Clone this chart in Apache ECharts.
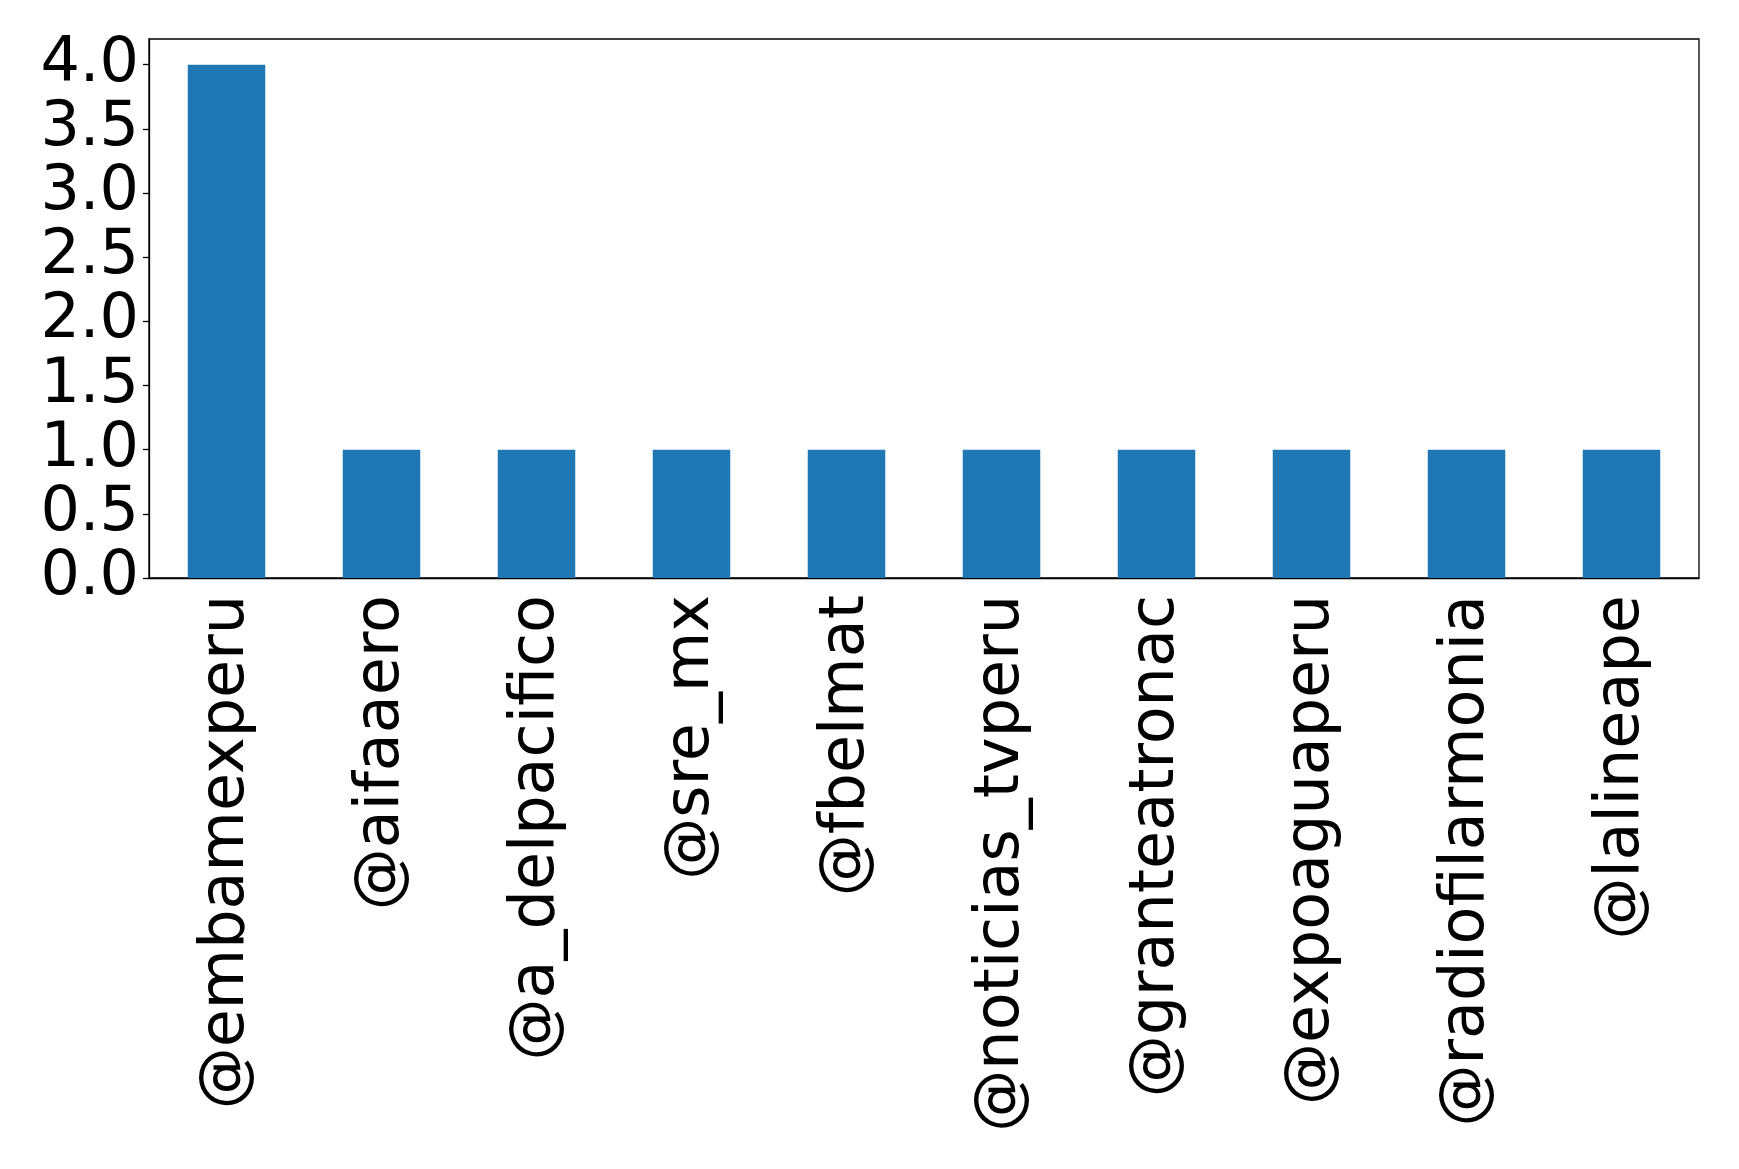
<!DOCTYPE html>
<html>
<head>
<meta charset="utf-8">
<script src="https://cdn.jsdelivr.net/npm/echarts@6/dist/echarts.min.js"></script>
<style>
html,body{margin:0;padding:0;background:#fff}
#chart{width:1739px;height:1169px}
</style>
</head>
<body>
<div id="chart"></div>
<script>
var categories = ['@embamexperu','@aifaaero','@a_delpacifico','@sre_mx','@fbelmat',
  '@noticias_tvperu','@granteatronac','@expoaguaperu','@radiofilarmonia','@lalineape'];
var counts = [4, 1, 1, 1, 1, 1, 1, 1, 1, 1];
var yTicks = [0, 0.5, 1.0, 1.5, 2.0, 2.5, 3.0, 3.5, 4.0];

var chart = echarts.init(document.getElementById('chart'));
chart.setOption({
  animation: false,
  grid: {
    left: 149, top: 39, width: 1550, height: 539,
    show: true, borderColor: '#000', borderWidth: 1.3
  },
  xAxis: {
    type: 'category',
    data: categories,
    axisLine: {lineStyle: {color: '#000', width: 1.3}},
    axisTick: {alignWithLabel: true, length: 6, lineStyle: {color: '#000', width: 1.3}},
    axisLabel: {
      rotate: 90, interval: 0, margin: 17,
      fontFamily: 'DejaVu Sans', fontSize: 62, color: '#000'
    }
  },
  yAxis: {
    type: 'value',
    min: 0, max: 4.2,
    splitLine: {show: false},
    axisLine: {show: true, lineStyle: {color: '#000', width: 1.3}},
    axisTick: {show: true, length: 6, customValues: yTicks, lineStyle: {color: '#000', width: 1.3}},
    axisLabel: {
      customValues: yTicks, margin: 10,
      fontFamily: 'DejaVu Sans', fontSize: 62, color: '#000',
      formatter: function (v) { return v.toFixed(1); }
    }
  },
  series: [{
    type: 'bar',
    data: counts,
    barWidth: '50%',
    itemStyle: {color: '#1f77b4'}
  }]
});
</script>
</body>
</html>
